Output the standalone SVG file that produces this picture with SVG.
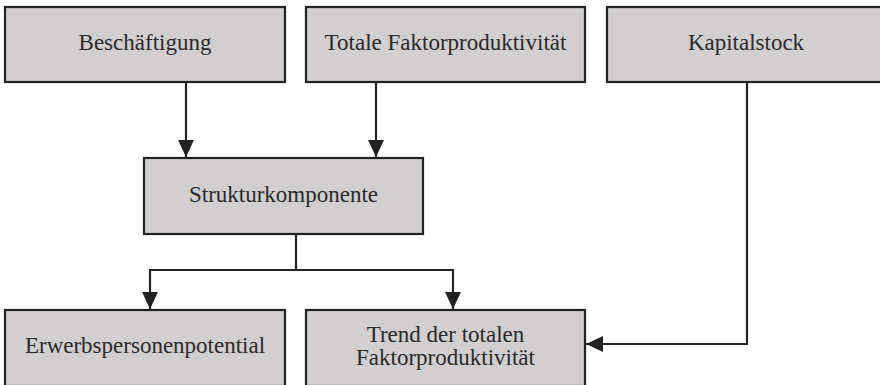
<svg xmlns="http://www.w3.org/2000/svg" width="880" height="385" viewBox="0 0 880 385">
<style>
.box{fill:#d1cfd0;stroke:#222;stroke-width:2.2}
.lbl{font-family:"Liberation Serif","Times New Roman",serif;font-size:23px;fill:#2a2a2a;text-anchor:middle}
.conn{fill:none;stroke:#222;stroke-width:2.2}
</style>
<defs>
<marker id="ah" markerUnits="userSpaceOnUse" markerWidth="18" markerHeight="18" viewBox="0 0 18 18" refX="17" refY="9" orient="auto">
<path d="M0,1 L17,9 L0,17 Z" fill="#222"/>
</marker>
</defs>
<rect width="880" height="385" fill="#fff"/>
<g id="connectors">
<path class="conn" d="M186,82 V157" marker-end="url(#ah)"/>
<path class="conn" d="M376,82 V157" marker-end="url(#ah)"/>
<path class="conn" d="M296,234 V270"/>
<path class="conn" d="M150,270 H453"/>
<path class="conn" d="M150,269 V309" marker-end="url(#ah)"/>
<path class="conn" d="M453,269 V309" marker-end="url(#ah)"/>
<path class="conn" d="M747,82 V344 H586" marker-end="url(#ah)"/>
</g>
<g id="n-beschaeftigung">
<rect class="box" x="5" y="7" width="280" height="75"/>
<text class="lbl" x="145" y="50">Beschäftigung</text>
</g>
<g id="n-tfp">
<rect class="box" x="306" y="7" width="279" height="75"/>
<text class="lbl" x="445.5" y="50">Totale Faktorproduktivität</text>
</g>
<g id="n-kapitalstock">
<rect class="box" x="607" y="7" width="279" height="75"/>
<text class="lbl" x="746" y="50">Kapitalstock</text>
</g>
<g id="n-struktur">
<rect class="box" x="144" y="158" width="279" height="76"/>
<text class="lbl" x="283.5" y="202">Strukturkomponente</text>
</g>
<g id="n-erwerbs">
<rect class="box" x="5" y="310" width="280" height="76"/>
<text class="lbl" x="145" y="353">Erwerbspersonenpotential</text>
</g>
<g id="n-trend">
<rect class="box" x="306" y="310" width="279" height="76"/>
<text class="lbl" x="445.5" y="342">Trend der totalen</text>
<text class="lbl" x="445.5" y="365">Faktorproduktivität</text>
</g>
</svg>
